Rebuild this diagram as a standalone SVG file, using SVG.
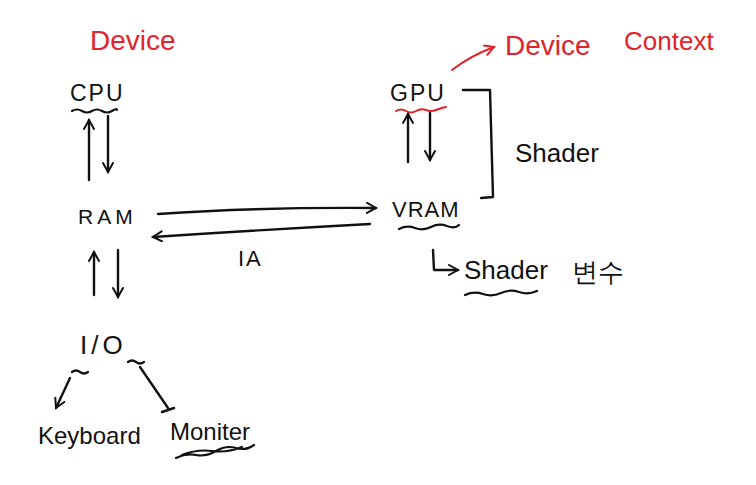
<svg xmlns="http://www.w3.org/2000/svg" width="756" height="485" viewBox="0 0 756 485">
<style>
.t{font-family:"Liberation Sans",Arial,sans-serif;fill:#111}
.r{font-family:"Liberation Sans",Arial,sans-serif;fill:#e0242a}
.ln{fill:none;stroke:#111;stroke-width:2.4;stroke-linecap:round;stroke-linejoin:round}
.rl{fill:none;stroke:#e0242a;stroke-width:2;stroke-linecap:round;stroke-linejoin:round}
.w{fill:none;stroke:#111;stroke-width:2.2;stroke-linecap:round}
</style>
<defs>
<marker id="ah" viewBox="0 0 12 12" refX="10" refY="6" markerWidth="12" markerHeight="12" markerUnits="userSpaceOnUse" orient="auto">
<path d="M1,1 L10,6 L1,11" fill="none" stroke="#111" stroke-width="2" stroke-linecap="round"/>
</marker>
<marker id="rah" viewBox="0 0 12 12" refX="10" refY="6" markerWidth="12" markerHeight="12" markerUnits="userSpaceOnUse" orient="auto">
<path d="M1,1 L10,6 L1,11" fill="none" stroke="#e0242a" stroke-width="2" stroke-linecap="round"/>
</marker>
</defs>
<rect width="756" height="485" fill="#fff"/>

<g id="label-device"><text class="r" x="90" y="50" font-size="28">Device</text></g>
<g id="node-cpu"><text class="t" x="70" y="101" font-size="23" letter-spacing="2">CPU</text>
<path class="w" d="M72,111 q5,-3 10,0 t10,0 t10,0 t10,0 t5,-1"/></g>
<g id="node-ram"><text class="t" x="78" y="224" font-size="21" letter-spacing="4">RAM</text></g>
<g id="node-io"><text class="t" x="80" y="354" font-size="26" letter-spacing="4">I/O</text>
<path class="w" d="M72,372 q4,-3 8,0 t8,0"/><path class="w" d="M128,362 q4,-3 8,0 t8,0"/></g>
<g id="node-keyboard"><text class="t" x="38" y="444" font-size="24">Keyboard</text></g>
<g id="node-moniter"><text class="t" x="170" y="440" font-size="24">Moniter</text>
<path class="w" d="M176,458 q10,-5 20,-3 t20,-4 t20,-3 t18,-3 M182,455 q15,-6 30,-4 t30,-4"/></g>
<g id="node-gpu"><text class="t" x="390" y="101" font-size="23" letter-spacing="2">GPU</text>
<path class="rl" d="M396,111 q5,-3 10,0 t10,0 t10,-1 t10,0 t10,-3"/></g>
<g id="label-device-context"><text class="r" x="505" y="55" font-size="28">Device</text>
<text class="r" x="624" y="50" font-size="26">Context</text></g>
<g id="label-shader"><text class="t" x="515" y="162" font-size="26">Shader</text></g>
<g id="node-vram"><text class="t" x="392" y="217" font-size="22" letter-spacing="1">VRAM</text>
<path class="w" d="M399,229 q8,-4 16,-1 t16,-1 t16,-1 t12,-1"/></g>
<g id="node-shader-var"><text class="t" x="464" y="279" font-size="26">Shader</text>
<path class="w" d="M465,295 q9,-4 18,-1 t18,-1 t18,-1 t18,-1"/>
<text class="t" x="572" y="281" font-size="26" font-family="'Noto Sans CJK KR',sans-serif">변수</text></g>
<g id="label-ia"><text class="t" x="238" y="266" font-size="22" letter-spacing="2">IA</text></g>

<g id="connectors">
<path class="ln" d="M89,180 L89,120" marker-end="url(#ah)"/>
<path class="ln" d="M108,116 L108,172" marker-end="url(#ah)"/>
<path class="ln" d="M158,214 Q260,207 376,208" marker-end="url(#ah)"/>
<path class="ln" d="M370,224 Q260,230 153,237" marker-end="url(#ah)"/>
<path class="ln" d="M94,295 L94,252" marker-end="url(#ah)"/>
<path class="ln" d="M118,250 L118,297" stroke-width="3.2" marker-end="url(#ah)"/>
<path class="ln" d="M70,378 L56,408" marker-end="url(#ah)"/>
<path class="ln" d="M140,367 L168,408 M162,412 L174,408"/>
<path class="ln" d="M408,162 L408,114" marker-end="url(#ah)"/>
<path class="ln" d="M430,113 L430,160" marker-end="url(#ah)"/>
<path class="ln" d="M463,90 L490,90 L493,197 L481,198"/>
<path class="rl" d="M452,70 Q470,56 494,47" marker-end="url(#rah)"/>
<path class="ln" d="M433,250 L434,270 L458,270" marker-end="url(#ah)"/>
</g>
</svg>
